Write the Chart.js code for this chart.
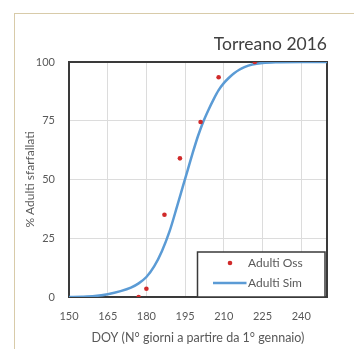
<!DOCTYPE html>
<html><head><meta charset="utf-8">
<script src="https://cdn.jsdelivr.net/npm/chart.js@4"></script>
<style>
html,body{margin:0;padding:0;background:#fff;}
#wrap{position:relative;width:354px;height:349px;overflow:hidden;}
#frame{position:absolute;left:14px;top:13px;width:400px;height:400px;border-left:1px solid #d8cba9;border-top:1px solid #d8cba9;}
canvas{position:absolute;left:0;top:0;}
</style></head><body>
<div id="wrap"><div id="frame"></div><canvas id="c" width="354" height="349"></canvas></div>
<script>
const titleText = 'Torreano 2016';
const xTitle = 'DOY (N° giorni a partire da 1° gennaio)';
const yTitle = '% Adulti sfarfallati';
const xTicks = [150, 165, 180, 195, 210, 225, 240];
const yTicks = [0, 25, 50, 75, 100];
const obsLabel = 'Adulti Oss';
const simLabel = 'Adulti Sim';
const obsDoy = [177, 180, 187, 193, 201, 208, 222];
const obsPct = [0, 3.5, 35, 59, 74.5, 93.5, 100];
const simDoy = [150, 155, 160, 165, 170, 174, 177, 180, 183, 186, 189, 192, 194, 196, 198, 200, 202, 204, 206, 208, 210, 212, 214, 216, 218, 221, 225, 230, 240, 250];
const simPct = [0, 0.1, 0.4, 1.2, 2.5, 4, 5.8, 8.5, 13, 19.5, 28, 39, 46.5, 54, 61.5, 68.5, 74.5, 79.5, 84, 88, 91, 93.3, 95.2, 96.7, 97.8, 98.9, 99.6, 99.9, 100, 100];

const FONT = 'Lato, "Open Sans", sans-serif';
const TXT = '#595959';

const frameAndLegend = {
  id: 'frameAndLegend',
  beforeDatasetsDraw(chart) {
    const {ctx, chartArea: a} = chart;
    ctx.save();
    ctx.strokeStyle = '#3a3a3a';
    ctx.lineWidth = 2;
    ctx.strokeRect(a.left, a.top, a.right - a.left, a.bottom - a.top);
    ctx.restore();
  },
  afterDraw(chart) {
    const {ctx, chartArea: a} = chart;
    const ds = chart.data.datasets;
    const bx = a.right - 129.5, by = a.bottom - 45, bw = 127.5, bh = 45;
    ctx.save();
    ctx.fillStyle = '#fff';
    ctx.fillRect(bx, by, bw, bh);
    ctx.strokeStyle = '#3a3a3a';
    ctx.lineWidth = 1.5;
    ctx.strokeRect(bx, by, bw, bh);
    ctx.font = '12px ' + FONT;
    ctx.textBaseline = 'middle';
    ctx.textAlign = 'left';
    ctx.beginPath();
    ctx.fillStyle = ds[0].backgroundColor;
    ctx.arc(bx + 32.5, by + 11, 2.3, 0, Math.PI * 2);
    ctx.fill();
    ctx.fillStyle = TXT;
    ctx.fillText(ds[0].label, bx + 50.5, by + 11);
    ctx.beginPath();
    ctx.strokeStyle = ds[1].borderColor;
    ctx.lineWidth = 2.5;
    ctx.moveTo(bx + 15.5, by + 31);
    ctx.lineTo(bx + 49, by + 31);
    ctx.stroke();
    ctx.fillText(ds[1].label, bx + 50.5, by + 31);
    ctx.restore();
  }
};

new Chart(document.getElementById('c'), {
  type: 'scatter',
  data: {
    datasets: [
      {
        label: obsLabel,
        data: obsDoy.map((d, i) => ({x: d, y: obsPct[i]})),
        backgroundColor: '#d02a2a',
        borderColor: '#d02a2a',
        pointRadius: 2.3,
        pointBorderWidth: 0,
        showLine: false
      },
      {
        label: simLabel,
        data: simDoy.map((d, i) => ({x: d, y: simPct[i]})),
        borderColor: '#5b9bd5',
        backgroundColor: '#5b9bd5',
        borderWidth: 2.5,
        pointRadius: 0,
        showLine: true,
        cubicInterpolationMode: 'monotone'
      }
    ]
  },
  options: {
    responsive: false,
    animation: false,
    layout: {padding: {top: 34, right: 27, bottom: 0, left: 0}},
    plugins: {
      legend: {display: false},
      tooltip: {enabled: false},
      title: {
        display: true, text: titleText, align: 'end', color: '#404040',
        font: {family: FONT, size: 17.5, weight: 'normal'}, padding: {top: 0, bottom: 7}
      }
    },
    scales: {
      x: {
        type: 'linear', min: 150, max: 250,
        afterBuildTicks: s => { s.ticks = xTicks.map(v => ({value: v})); },
        afterFit: s => { s.height = 52; },
        grid: {color: '#dcdcdc', lineWidth: 1, drawTicks: false},
        border: {display: false},
        ticks: {color: TXT, font: {family: FONT, size: 11}, padding: 13, maxRotation: 0},
        title: {display: true, text: xTitle, color: TXT, font: {family: FONT, size: 12.5}, padding: {top: 0, bottom: 3.5}}
      },
      y: {
        min: 0, max: 100,
        afterBuildTicks: s => { s.ticks = yTicks.map(v => ({value: v})); },
        afterFit: s => { s.width = 69; },
        grid: {color: '#dcdcdc', lineWidth: 1, drawTicks: false},
        border: {display: false},
        ticks: {color: TXT, font: {family: FONT, size: 11}, padding: 14},
        title: {display: true, text: yTitle, color: TXT, font: {family: FONT, size: 12}, padding: {top: 23, bottom: 0}}
      }
    }
  },
  plugins: [frameAndLegend]
});
</script>
</body></html>
